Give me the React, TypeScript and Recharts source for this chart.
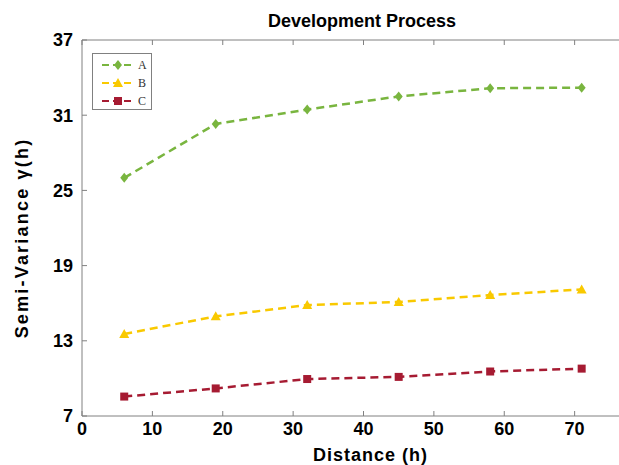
import React from "react";
import {
    LineChart,
    Line,
    XAxis,
    YAxis,
} from "recharts";

const distance = [6, 19, 32, 45, 58, 71];
const seriesA = [26.0, 30.3, 31.45, 32.5, 33.15, 33.2];
const seriesB = [13.55, 14.95, 15.85, 16.1, 16.65, 17.1];
const seriesC = [8.55, 9.2, 9.95, 10.12, 10.55, 10.78];
const xTicks = [0, 10, 20, 30, 40, 50, 60, 70];
const yTicks = [7, 13, 19, 25, 31, 37];

const data = distance.map((d, i) => ({ d, A: seriesA[i], B: seriesB[i], C: seriesC[i] }));

const GREEN = "#79b53f";
const YELLOW = "#f9c900";
const RED = "#a61b32";
const AXIS = "#808080";
const FONT = "'Liberation Sans', Arial, sans-serif";

const Diamond = ({ cx, cy, fill }: any) => (
    <path d={`M${cx},${cy - 5}L${cx + 4},${cy}L${cx},${cy + 5}L${cx - 4},${cy}Z`} fill={fill} />
);
const Triangle = ({ cx, cy, fill }: any) => (
    <path d={`M${cx},${cy - 5}L${cx + 5},${cy + 4}L${cx - 5},${cy + 4}Z`} fill={fill} />
);
const Square = ({ cx, cy, fill }: any) => (
    <rect x={cx - 4} y={cy - 4} width={8} height={8} fill={fill} />
);

const legendItems = [
    { label: "A", color: GREEN, Marker: Diamond },
    { label: "B", color: YELLOW, Marker: Triangle },
    { label: "C", color: RED, Marker: Square },
];

function ChartLegend() {
    return (
        <div style={{ position: "absolute", left: 92, top: 53, width: 60, height: 57, border: `1px solid ${AXIS}`, background: "#fff", paddingTop: 2, boxSizing: "border-box" }}>
            {legendItems.map(({ label, color, Marker }) => (
                <div key={label} style={{ display: "flex", alignItems: "center", height: 18 }}>
                    <svg width={34} height={12} style={{ marginLeft: 9 }}>
                        <line x1={0} y1={6} x2={32} y2={6} stroke={color} strokeWidth={2} strokeDasharray="7 4" />
                        <Marker cx={16} cy={6} fill={color} />
                    </svg>
                    <span style={{ fontFamily: "'Liberation Serif', serif", fontSize: 12, lineHeight: "12px", color: "#333", marginLeft: 2 }}>{label}</span>
                </div>
            ))}
        </div>
    );
}

const dotOf = (Marker: any, color: string) => (p: any) => (
    <Marker key={`${color}-${p.index}`} cx={p.cx} cy={p.cy} fill={color} />
);

// top axis: tick marks only, no labels
const NoLabel = (p: any) => <g key={`top-${p.index}`} />;

export default function App() {
    const tickStyle = { fontFamily: FONT, fontSize: 18, fontWeight: 700, fill: "#000" };
    return (
        <div style={{ position: "absolute", left: 0, top: 0, width: 619, height: 465, overflow: "hidden", background: "#fff" }}>
            <div style={{ position: "absolute", left: 82, width: 560, top: 12, textAlign: "center", fontFamily: FONT, fontSize: 18, fontWeight: 700, lineHeight: "18px", color: "#000" }}>
                Development Process
            </div>
            <div style={{ position: "absolute", left: 22, top: 238, transform: "translate(-50%, -50%) rotate(-90deg)", whiteSpace: "nowrap", fontFamily: FONT, fontSize: 18, fontWeight: 700, lineHeight: "18px", letterSpacing: 2.2, color: "#000" }}>
                Semi-Variance γ(h)
            </div>
            <LineChart width={660} height={465} data={data} margin={{ top: 39, right: 15, bottom: 0, left: 0 }}>
                <XAxis
                    dataKey="d"
                    type="number"
                    domain={[0, 80]}
                    ticks={xTicks}
                    height={49}
                    stroke={AXIS}
                    tickSize={-5}
                    tickMargin={11}
                    tick={tickStyle}
                    label={{ value: "Distance (h)", position: "insideBottom", offset: 4, dx: 7, style: { ...tickStyle, letterSpacing: 1 } }}
                />
                <XAxis
                    xAxisId="top"
                    orientation="top"
                    dataKey="d"
                    type="number"
                    domain={[0, 80]}
                    ticks={xTicks}
                    height={1}
                    stroke={AXIS}
                    tickSize={-5}
                    tick={NoLabel}
                />
                <YAxis
                    type="number"
                    domain={[7, 37]}
                    ticks={yTicks}
                    width={82}
                    stroke={AXIS}
                    tickSize={-5}
                    tickMargin={14}
                    tick={tickStyle}
                />
                <Line dataKey="A" stroke={GREEN} strokeWidth={2.5} strokeDasharray="8 5" dot={dotOf(Diamond, GREEN)} isAnimationActive={false} />
                <Line dataKey="B" stroke={YELLOW} strokeWidth={2.5} strokeDasharray="8 5" dot={dotOf(Triangle, YELLOW)} isAnimationActive={false} />
                <Line dataKey="C" stroke={RED} strokeWidth={2.5} strokeDasharray="8 5" dot={dotOf(Square, RED)} isAnimationActive={false} />
            </LineChart>
            <ChartLegend />
        </div>
    );
}
